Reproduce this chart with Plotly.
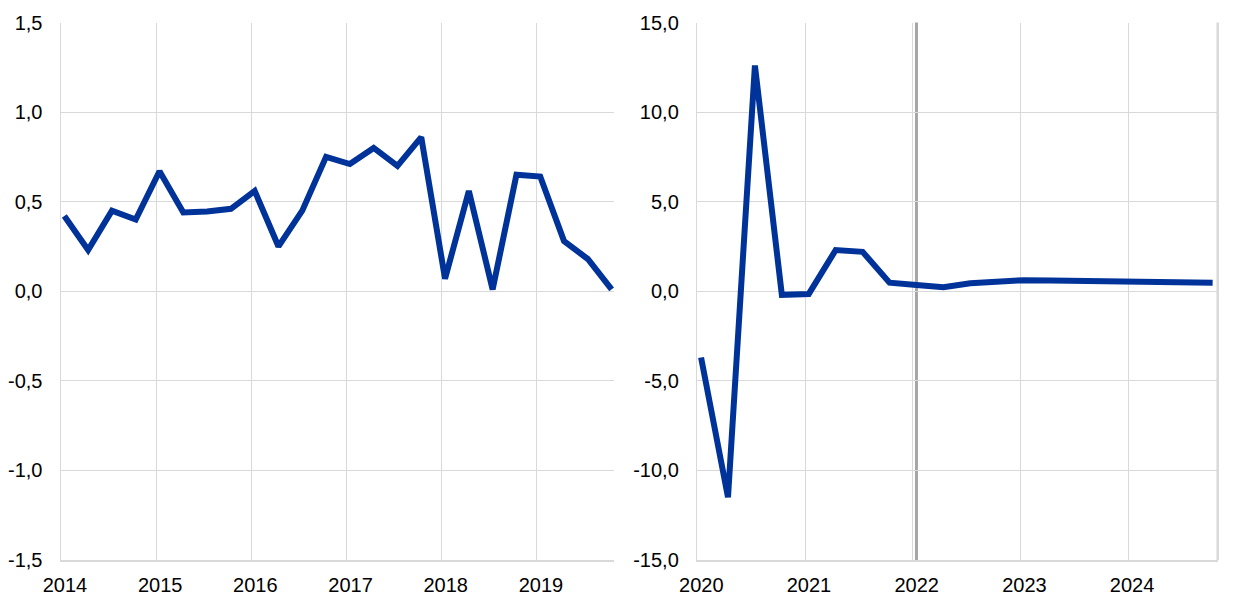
import plotly.graph_objects as go

# ---- data ----
left_quarters = [f"{y}Q{q}" for y in range(2014, 2020) for q in range(1, 5)]
left_values = [0.42, 0.23, 0.45, 0.40, 0.67, 0.44, 0.445, 0.46,
               0.56, 0.25, 0.45, 0.75, 0.71, 0.80, 0.70, 0.86,
               0.07, 0.56, 0.01, 0.65, 0.64, 0.28, 0.18, 0.01]

right_quarters = [f"{y}Q{q}" for y in range(2020, 2025) for q in range(1, 5)]
right_values = [-3.7, -11.5, 12.6, -0.2, -0.15, 2.3, 2.2, 0.48,
                0.35, 0.22, 0.45, 0.54, 0.62, 0.60, 0.58, 0.55,
                0.53, 0.52, 0.50, 0.48]

left_years = [2014, 2015, 2016, 2017, 2018, 2019]
right_years = [2020, 2021, 2022, 2023, 2024]
left_yticks = [-1.5, -1.0, -0.5, 0.0, 0.5, 1.0, 1.5]
right_yticks = [-15, -10, -5, 0, 5, 10, 15]
marker_quarter = "2022Q1"


def qpos(label):
    y, q = label.split("Q")
    return int(y) + 0.035 + 0.25 * (int(q) - 1)


def fmt(v):
    return f"{v:.1f}".replace(".", ",")


left_x = [qpos(s) for s in left_quarters]
right_x = [qpos(s) for s in right_quarters]

BLUE = "#003399"
GRID = "#d9d9d9"
FONT = dict(family="Liberation Sans, Arial, sans-serif", size=20, color="#000000")

fig = go.Figure()
fig.add_trace(go.Scatter(x=left_x, y=left_values, mode="lines",
                         line=dict(color=BLUE, width=6), xaxis="x", yaxis="y",
                         showlegend=False, hoverinfo="skip"))
fig.add_trace(go.Scatter(x=right_x, y=right_values, mode="lines",
                         line=dict(color=BLUE, width=6), xaxis="x2", yaxis="y2",
                         showlegend=False, hoverinfo="skip"))

W, H = 1240, 607
ydom = [(H - 560) / H, (H - 22.5) / H]

common_x = dict(showgrid=True, gridcolor=GRID, gridwidth=1, zeroline=False,
                showline=True, linecolor=GRID, linewidth=1.5, ticks="",
                tickfont=FONT, ticklabelstandoff=6, ticklabelshift=4,
                automargin=False)
common_y = dict(showgrid=True, gridcolor=GRID, gridwidth=1, zeroline=False,
                showline=True, linecolor=GRID, linewidth=1.5, ticks="",
                tickfont=FONT, ticklabelstandoff=13, automargin=False)

fig.update_layout(
    width=W, height=H,
    margin=dict(l=0, r=0, t=0, b=0, pad=0),
    paper_bgcolor="white", plot_bgcolor="white",
    font=FONT,
    hovermode=False,
    xaxis=dict(common_x, domain=[61 / W, 614 / W], range=[2014, 2019.81],
               tickvals=left_years, ticktext=[str(v) for v in left_years],
               anchor="y"),
    yaxis=dict(common_y, domain=ydom, range=[-1.5, 1.5], tickvals=left_yticks,
               ticktext=[fmt(v) for v in left_yticks], anchor="x"),
    xaxis2=dict(common_x, domain=[697.3 / W, 1217.7 / W],
                range=[2020, 2024.832],
                tickvals=right_years, ticktext=[str(v) for v in right_years],
                anchor="y2"),
    yaxis2=dict(common_y, domain=ydom, range=[-15, 15], tickvals=right_yticks,
                ticktext=[fmt(v) for v in right_yticks], anchor="x2"),
    shapes=[
        dict(type="line", xref="x2", yref="paper",
             x0=qpos(marker_quarter), x1=qpos(marker_quarter),
             y0=ydom[0], y1=ydom[1],
             line=dict(color="#a6a6a6", width=3), layer="below"),
        dict(type="line", xref="paper", yref="paper",
             x0=1217.7 / W, x1=1217.7 / W,
             y0=ydom[0], y1=ydom[1],
             line=dict(color=GRID, width=2.5), layer="below"),
    ],
)

fig.write_html("out.html",
               config={"displayModeBar": False, "staticPlot": True},
               post_script="document.body.style.margin='0px';document.body.style.overflow='hidden';")
